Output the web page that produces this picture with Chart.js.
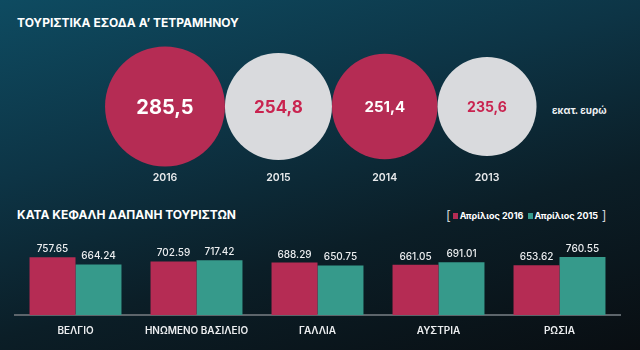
<!DOCTYPE html>
<html>
<head>
<meta charset="utf-8">
<script src="https://cdn.jsdelivr.net/npm/chart.js@4"></script>
<style>
  html, body { margin: 0; padding: 0; }
  body {
    width: 640px; height: 350px; overflow: hidden; position: relative;
    background: linear-gradient(165deg, #0e4b61 0%, #0d3445 35%, #0b1e27 65%, #090e12 100%);
    font-family: Inter, "Open Sans", sans-serif; color: #fff;
  }
  .title { position: absolute; left: 17px; font-size: 12px; font-weight: 700; line-height: 16px; white-space: nowrap; }
  .unit { position: absolute; left: 552px; top: 104px; font-size: 10px; font-weight: 700; color: #eef0f2; }
  .legend { position: absolute; left: 446px; top: 208px; font-size: 9px; font-weight: 700; line-height: 14px; white-space: nowrap; }
  .legend .br { color: #cfd3d6; font-weight: 400; font-size: 13px; vertical-align: -1px; }
  .legend .sw { display: inline-block; width: 5px; height: 6px; margin: 0 2px 0 2px; vertical-align: 0px; }
  canvas { position: absolute; left: 0; }
  #revenueChart { top: 0; }
  #spendChart { top: 230px; }
</style>
</head>
<body>
<div class="title" style="top:15px">ΤΟΥΡΙΣΤΙΚΑ ΕΣΟΔΑ Α’ ΤΕΤΡΑΜΗΝΟΥ</div>
<div class="unit">εκατ. ευρώ</div>
<div class="title" style="top:207px">ΚΑΤΑ ΚΕΦΑΛΗ ΔΑΠΑΝΗ ΤΟΥΡΙΣΤΩΝ</div>
<div class="legend">
  <span class="br">[</span><span class="sw" style="background:#b52c54"></span>Απρίλιος 2016
  <span class="sw" style="background:#369a8b"></span>Απρίλιος 2015<span class="br"> ]</span>
</div>
<canvas id="revenueChart" width="640" height="213"></canvas>
<canvas id="spendChart" width="640" height="120"></canvas>
<script>
// tourism revenue, first four months (million euro)
const years = ['2016', '2015', '2014', '2013'];
const revenue = [285.5, 254.8, 251.4, 235.6];

// per-capita spend by country
const countries = ['ΒΕΛΓΙΟ', 'ΗΝΩΜΕΝΟ ΒΑΣΙΛΕΙΟ', 'ΓΑΛΛΙΑ', 'ΑΥΣΤΡΙΑ', 'ΡΩΣΙΑ'];
const april2016 = [757.65, 702.59, 688.29, 661.05, 653.62];
const april2015 = [664.24, 717.42, 650.75, 691.01, 760.55];

const CRIMSON = '#b52c54';
const TEAL = '#369a8b';
const PALE = '#d9dadd';

// bubble radius in px per million euro
const K = 0.21;

// circles sit side by side, so each centre is the previous one plus both radii
function bubbleData() {
    let x = 0;
    return revenue.map((v, i) => {
        if (i > 0) x += revenue[i - 1] + v;
        return { x: x, y: 0, r: v * K };
    });
}

const bubbleLabels = {
    id: 'bubbleLabels',
    afterDatasetsDraw(chart) {
        const ctx = chart.ctx;
        const meta = chart.getDatasetMeta(0);
        const sizes = [20, 17, 15, 14];
        ctx.save();
        ctx.textAlign = 'center';
        ctx.textBaseline = 'middle';
        meta.data.forEach((el, i) => {
            const v = revenue[i];
            ctx.font = `700 ${sizes[i]}px Inter, "Open Sans", sans-serif`;
            ctx.fillStyle = i % 2 === 0 ? '#ffffff' : '#c9234f';
            ctx.fillText(String(v).replace('.', ','), el.x, el.y + 1);
            ctx.font = '600 10.5px Inter, "Open Sans", sans-serif';
            ctx.fillStyle = '#e8eaec';
            ctx.fillText(years[i], el.x, el.y + 71);
        });
        ctx.restore();
    }
};

const barLabels = {
    id: 'barLabels',
    afterDatasetsDraw(chart) {
        const ctx = chart.ctx;
        ctx.save();
        ctx.textAlign = 'center';
        ctx.textBaseline = 'bottom';
        ctx.font = '500 10px Inter, "Open Sans", sans-serif';
        ctx.fillStyle = '#eceef0';
        chart.data.datasets.forEach((ds, di) => {
            chart.getDatasetMeta(di).data.forEach((bar, i) => {
                ctx.fillText(ds.data[i].toFixed(2), bar.x, bar.y - 3);
            });
        });
        ctx.restore();
    }
};

function mainEvent() {
    const x0px = 165;
    new Chart(document.querySelector('#revenueChart'), {
        type: 'bubble',
        data: {
            datasets: [{
                data: bubbleData(),
                backgroundColor: revenue.map((v, i) => i % 2 === 0 ? CRIMSON : PALE),
                borderWidth: 0,
                hoverRadius: 0,
                clip: false
            }]
        },
        options: {
            responsive: false,
            animation: false,
            events: [],
            layout: { padding: 0, autoPadding: false },
            plugins: { legend: { display: false }, tooltip: { enabled: false } },
            scales: {
                x: { type: 'linear', display: false, min: -x0px / K, max: (640 - x0px) / K },
                y: { type: 'linear', display: false, min: -1, max: 1 }
            }
        },
        plugins: [bubbleLabels]
    });

    new Chart(document.querySelector('#spendChart'), {
        type: 'bar',
        data: {
            labels: countries,
            datasets: [
                { label: 'Απρίλιος 2016', data: april2016, backgroundColor: CRIMSON },
                { label: 'Απρίλιος 2015', data: april2015, backgroundColor: TEAL }
            ]
        },
        options: {
            responsive: false,
            animation: false,
            events: [],
            layout: { padding: { left: 15, right: 20, top: 5, bottom: 3 } },
            datasets: { bar: { barPercentage: 1, categoryPercentage: 0.76 } },
            plugins: { legend: { display: false }, tooltip: { enabled: false } },
            scales: {
                x: {
                    grid: { display: false, drawTicks: false },
                    border: { display: true, color: '#5d656b', width: 2 },
                    ticks: {
                        color: '#eceef0',
                        padding: 10,
                        font: { family: 'Inter, "Open Sans", sans-serif', size: 10, weight: '600' }
                    }
                },
                y: { display: false, beginAtZero: true, min: 0, max: 1050 }
            }
        },
        plugins: [barLabels]
    });
}

document.addEventListener('DOMContentLoaded', () => mainEvent());
</script>
</body>
</html>
